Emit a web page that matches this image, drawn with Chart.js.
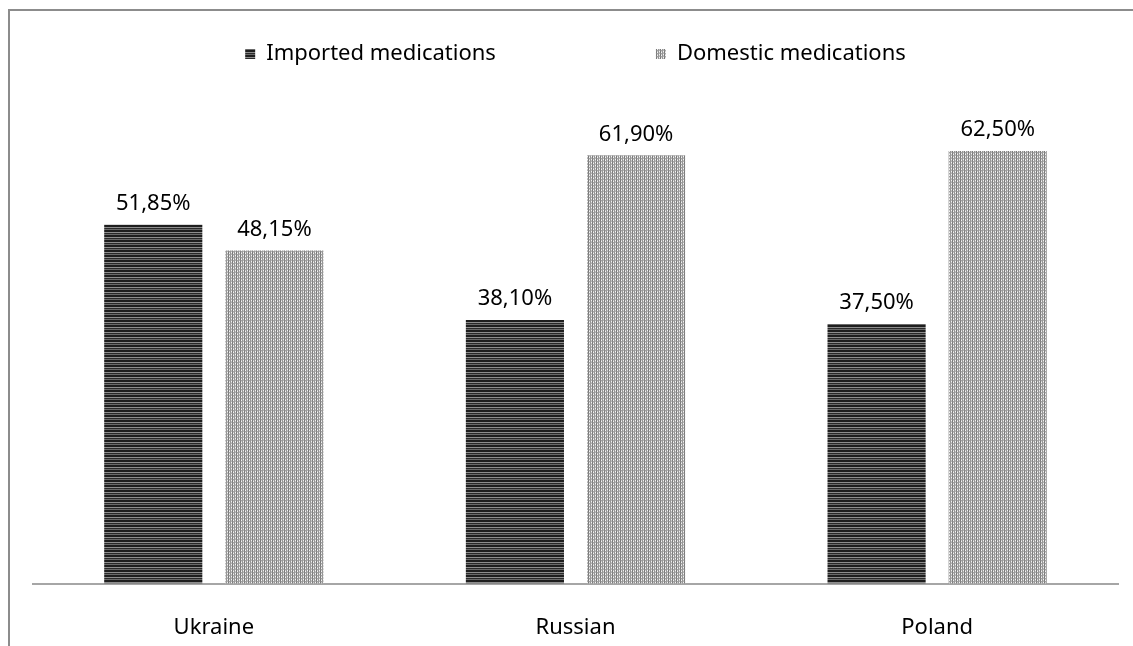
<!DOCTYPE html>
<html>
<head>
<meta charset="utf-8">
<script src="https://cdn.jsdelivr.net/npm/chart.js@4"></script>
<style>
  html, body { margin: 0; padding: 0; background: #fff; overflow: hidden; }
  #chart { display: block; }
</style>
</head>
<body>
<canvas id="chart" width="1133" height="646"></canvas>
<script>
const countries = ["Ukraine", "Russian", "Poland"];
const imported = [51.85, 38.1, 37.5];
const domestic = [48.15, 61.9, 62.5];
const seriesNames = ["Imported medications", "Domestic medications"];

// little hatch tiles, like the printed grey fills
function makePattern(rows) {
  const c = document.createElement("canvas");
  c.width = rows[0].length;
  c.height = rows.length;
  const g = c.getContext("2d");
  rows.forEach((r, y) => {
    r.forEach((col, x) => {
      g.fillStyle = col;
      g.fillRect(x, y, 1, 1);
    });
  });
  return g.createPattern(c, "repeat");
}

const ctx = document.getElementById("chart").getContext("2d");

const stripes = makePattern([
  ["#1e1e1e"],
  ["#1e1e1e"],
  ["#8e8e8e"],
  ["#2a2a2a"],
  ["#6a6a6a"],
]);
const grid = makePattern([
  ["#7a7a7a", "#cfcfcf", "#959595", "#f4f4f4"],
  ["#7a7a7a", "#f4f4f4", "#959595", "#c4c4c4"],
  ["#888888", "#a2a2a2", "#9a9a9a", "#b4b4b4"],
]);

// grey frame on the left and top, open on the other sides
const frame = {
  id: "frame",
  beforeDraw(chart) {
    const c = chart.ctx;
    c.save();
    c.strokeStyle = "#8c8c8c";
    c.lineWidth = 2;
    c.beginPath();
    c.moveTo(9, chart.height);
    c.lineTo(9, 10);
    c.lineTo(chart.width, 10);
    c.stroke();
    c.restore();
  }
};

const valueLabels = {
  id: "valueLabels",
  afterDatasetsDraw(chart) {
    const c = chart.ctx;
    c.save();
    c.font = "22px 'Noto Sans'";
    c.fillStyle = "#000";
    c.textAlign = "center";
    c.textBaseline = "bottom";
    chart.data.datasets.forEach((ds, i) => {
      chart.getDatasetMeta(i).data.forEach((bar, j) => {
        const txt = ds.data[j].toFixed(2).replace(".", ",") + "%";
        c.fillText(txt, bar.x, bar.y - 10);
      });
    });
    c.restore();
  }
};

new Chart(ctx, {
  type: "bar",
  data: {
    labels: countries,
    datasets: [
      { label: seriesNames[0], data: imported, backgroundColor: stripes, borderWidth: 0 },
      { label: seriesNames[1], data: domestic, backgroundColor: grid, borderWidth: 0 },
    ],
  },
  options: {
    responsive: false,
    animation: false,
    datasets: { bar: { categoryPercentage: 0.67, barPercentage: 0.81 } },
    layout: { padding: { left: 33, right: 15, top: -117, bottom: -26 } },
    plugins: {
      tooltip: { enabled: false },
      legend: {
        position: "top",
        labels: {
          color: "#000",
          font: { family: "'Noto Sans'", size: 22 },
          boxWidth: 10,
          boxHeight: 10,
          padding: 160,
        },
      },
    },
    scales: {
      x: {
        grid: { display: false, drawTicks: false },
        border: { display: true, color: "#a6a6a6", width: 2 },
        ticks: { color: "#000", font: { family: "'Noto Sans'", size: 22 }, padding: 31 },
      },
      y: {
        display: false,
        min: 0,
        max: 73.5,
      },
    },
  },
  plugins: [frame, valueLabels],
});
</script>
</body>
</html>
